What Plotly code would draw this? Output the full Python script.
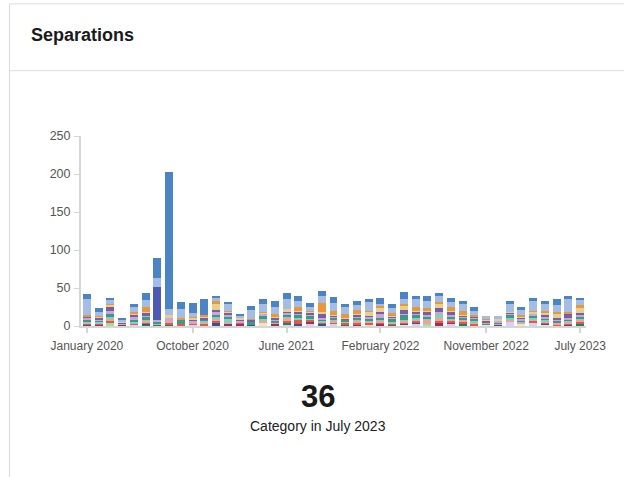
import plotly.graph_objects as go

# Months shown on the x axis (January 2020 .. July 2023)
months = [
    "January 2020", "February 2020", "March 2020", "April 2020", "May 2020", "June 2020",
    "July 2020", "August 2020", "September 2020", "October 2020", "November 2020", "December 2020",
    "January 2021", "February 2021", "March 2021", "April 2021", "May 2021", "June 2021",
    "July 2021", "August 2021", "September 2021", "October 2021", "November 2021", "December 2021",
    "January 2022", "February 2022", "March 2022", "April 2022", "May 2022", "June 2022",
    "July 2022", "August 2022", "September 2022", "October 2022", "November 2022", "December 2022",
    "January 2023", "February 2023", "March 2023", "April 2023", "May 2023", "June 2023",
    "July 2023",
]
tick_labels = ["January 2020", "October 2020", "June 2021", "February 2022", "November 2022", "July 2023"]
y_ticks = [0, 50, 100, 150, 200, 250]

# Separations per category and month, listed top of stack first
categories = ["Category 1", "Category 2", "Category 3", "Category 4", "Category 5", "Category 6",
              "Category 7", "Category 8", "Category 9", "Category 10", "Category 11", "Category 12",
              "Category 13", "Category 14", "Category 15", "Category 16", "Category 17"]
colors = ["#4a84c4", "#a3bde6", "#e8973b", "#e9cf8b", "#7a5da6", "#4d5ab4", "#c7a6dc", "#3a9a88",
          "#80d0bd", "#f3a096", "#e2584b", "#9b2f5e", "#3c5190", "#178659", "#9ddf9f", "#fde2c0", "#d5d0f7"]

# one row per month: values for categories 1..17
rows = [
    [7, 20, 2, 1, 1, 0, 3, 3, 1, 1, 1, 0, 2, 0, 0, 0, 0],
    [5, 6, 1, 1, 2, 0, 2, 1, 3, 0, 1, 2, 0, 0, 0, 0, 0],
    [2, 6, 1, 3, 5, 0, 4, 4, 3, 2, 3, 0, 0, 0, 4, 0, 0],
    [1, 4, 0, 1, 1, 0, 0, 0, 1, 0, 0, 2, 0, 0, 0, 0, 0],
    [4, 7, 1, 3, 1, 0, 5, 2, 3, 0, 1, 0, 0, 0, 0, 0, 2],
    [9, 9, 6, 1, 5, 0, 1, 4, 1, 2, 2, 0, 1, 2, 0, 0, 0],
    [26, 12, 0, 0, 0, 43, 2, 3, 0, 1, 0, 0, 0, 2, 0, 0, 0],
    [180, 8, 0, 4, 0, 0, 4, 0, 0, 2, 2, 0, 0, 2, 0, 0, 0],
    [9, 13, 1, 0, 1, 0, 0, 5, 0, 0, 3, 0, 0, 0, 0, 0, 0],
    [13, 5, 1, 2, 2, 0, 2, 1, 0, 1, 1, 0, 0, 0, 0, 0, 2],
    [21, 0, 3, 1, 2, 0, 1, 1, 3, 1, 2, 0, 0, 0, 0, 0, 1],
    [3, 4, 4, 8, 2, 0, 4, 3, 2, 4, 2, 0, 4, 0, 0, 0, 0],
    [3, 9, 1, 1, 4, 0, 2, 3, 5, 1, 0, 3, 0, 0, 0, 0, 0],
    [1, 4, 0, 2, 1, 0, 2, 0, 0, 1, 1, 3, 0, 0, 0, 0, 0],
    [5, 12, 1, 0, 2, 0, 0, 5, 0, 0, 0, 0, 1, 0, 0, 0, 0],
    [7, 10, 1, 1, 1, 0, 3, 4, 2, 2, 1, 0, 0, 0, 0, 4, 0],
    [8, 9, 4, 1, 3, 0, 1, 2, 1, 1, 0, 3, 0, 0, 0, 0, 0],
    [8, 12, 0, 4, 1, 0, 3, 3, 1, 4, 3, 0, 0, 2, 0, 0, 2],
    [7, 8, 5, 1, 3, 0, 1, 5, 1, 1, 5, 0, 2, 0, 0, 0, 1],
    [5, 5, 1, 1, 3, 0, 1, 5, 1, 0, 3, 3, 0, 0, 0, 0, 2],
    [7, 9, 12, 1, 6, 0, 2, 3, 1, 1, 1, 0, 3, 0, 0, 0, 0],
    [8, 10, 5, 1, 1, 0, 3, 2, 1, 3, 1, 0, 0, 0, 0, 0, 3],
    [4, 9, 5, 1, 1, 0, 1, 3, 0, 1, 2, 0, 0, 2, 0, 0, 0],
    [5, 7, 5, 1, 3, 0, 1, 3, 1, 3, 2, 2, 0, 0, 0, 0, 0],
    [4, 12, 1, 6, 1, 0, 2, 3, 1, 2, 2, 0, 0, 0, 0, 2, 0],
    [8, 2, 3, 5, 3, 0, 6, 2, 1, 2, 2, 3, 0, 0, 0, 0, 0],
    [5, 7, 4, 1, 1, 0, 1, 5, 1, 1, 1, 0, 0, 2, 0, 0, 0],
    [9, 7, 3, 5, 5, 0, 1, 7, 1, 2, 2, 0, 1, 0, 0, 2, 0],
    [4, 11, 5, 1, 3, 0, 1, 4, 2, 2, 2, 0, 3, 0, 0, 0, 2],
    [7, 9, 4, 1, 5, 0, 1, 4, 1, 6, 0, 0, 0, 0, 2, 0, 0],
    [4, 8, 1, 6, 6, 0, 1, 1, 6, 4, 2, 4, 0, 0, 0, 0, 0],
    [5, 7, 5, 1, 4, 0, 2, 4, 1, 1, 2, 3, 0, 0, 0, 0, 2],
    [4, 9, 5, 1, 1, 0, 2, 2, 1, 3, 2, 0, 0, 3, 0, 0, 0],
    [5, 6, 1, 1, 1, 0, 1, 3, 3, 1, 2, 0, 0, 0, 1, 0, 0],
    [0, 4, 1, 1, 3, 0, 1, 1, 0, 0, 0, 0, 0, 0, 0, 2, 0],
    [0, 4, 0, 3, 0, 0, 1, 2, 1, 0, 0, 2, 0, 0, 0, 0, 0],
    [4, 10, 0, 1, 1, 0, 3, 4, 2, 3, 0, 0, 0, 0, 0, 0, 5],
    [4, 7, 2, 1, 1, 0, 3, 1, 2, 1, 0, 0, 0, 0, 0, 3, 0],
    [4, 13, 1, 2, 1, 0, 2, 3, 2, 2, 2, 0, 0, 0, 0, 0, 5],
    [4, 9, 3, 3, 2, 0, 2, 2, 2, 2, 1, 0, 1, 0, 0, 2, 0],
    [9, 9, 2, 5, 2, 0, 2, 2, 1, 2, 1, 0, 0, 0, 0, 1, 0],
    [4, 17, 2, 1, 5, 0, 2, 2, 1, 3, 1, 0, 2, 0, 0, 0, 0],
    [1, 7, 4, 7, 3, 0, 1, 4, 1, 2, 3, 0, 0, 3, 0, 0, 0],
]

latest_total = sum(rows[-1])
latest_month = months[-1]

FONT = "Liberation Sans, Arial, sans-serif"

# Plot-area geometry in page pixels
W, H = 624, 477
L, R = 81, 586
TOP, BOT = 136, 326.5


def px(x):
    return (x - L) / (R - L)


def py(y):
    return (BOT - y) / (BOT - TOP)


fig = go.Figure()
# bottom of the stack is drawn first
for k in reversed(range(len(categories))):
    fig.add_trace(go.Bar(
        x=months,
        y=[r[k] for r in rows],
        name=categories[k],
        marker=dict(color=colors[k], line=dict(width=0)),
        hovertemplate="%{x}<br>" + categories[k] + ": %{y}<extra></extra>",
    ))

border = "#dcdcdc"
shapes = [
    dict(type="line", xref="paper", yref="paper", x0=px(9), x1=px(W + 5), y0=py(3.5), y1=py(3.5),
         line=dict(color=border, width=1)),
    dict(type="line", xref="paper", yref="paper", x0=px(9), x1=px(W + 5), y0=py(70.5), y1=py(70.5),
         line=dict(color=border, width=1)),
    dict(type="line", xref="paper", yref="paper", x0=px(9.5), x1=px(9.5), y0=py(3.5), y1=py(H + 5),
         line=dict(color=border, width=1)),
]

annotations = [
    dict(text="<b>Separations</b>", xref="paper", yref="paper", x=px(29), y=py(35),
         xanchor="left", yanchor="middle", showarrow=False,
         font=dict(family=FONT, size=18, color="#1a1a1a")),
    dict(text="<b>%d</b>" % latest_total, xref="paper", yref="paper", x=px(318), y=py(397),
         xanchor="center", yanchor="middle", showarrow=False,
         font=dict(family=FONT, size=31, color="#1a1a1a")),
    dict(text="Category in %s" % latest_month, xref="paper", yref="paper", x=px(318), y=py(427),
         xanchor="center", yanchor="middle", showarrow=False,
         font=dict(family=FONT, size=14, color="#222222")),
]

fig.update_layout(
    width=W, height=H,
    margin=dict(l=L, r=W - R, t=TOP, b=H - BOT),
    barmode="stack",
    bargap=0.32,
    showlegend=False,
    paper_bgcolor="white",
    plot_bgcolor="white",
    font=dict(family=FONT, size=12, color="#555555"),
    shapes=shapes,
    annotations=annotations,
    xaxis=dict(
        type="category",
        categoryorder="array", categoryarray=months,
        tickmode="array", tickvals=tick_labels, ticktext=tick_labels,
        showline=True, linecolor="#d6d6d6", linewidth=2,
        ticks="outside", ticklen=5, tickcolor="#d6d6d6", tickwidth=2,
        ticklabelstandoff=3,
        showgrid=False, zeroline=False,
        tickfont=dict(family=FONT, size=12, color="#555555"),
        range=[-0.5, len(months) - 0.5],
        fixedrange=True,
    ),
    yaxis=dict(
        range=[0, 250],
        tickmode="array", tickvals=y_ticks,
        showline=True, linecolor="#d6d6d6", linewidth=2,
        ticks="outside", ticklen=5, tickcolor="#d6d6d6", tickwidth=1,
        ticklabelstandoff=1,
        showgrid=False, zeroline=False,
        tickfont=dict(family=FONT, size=12.5, color="#555555"),
        fixedrange=True,
    ),
)

fig.write_html("out.html", config={"displayModeBar": False})
